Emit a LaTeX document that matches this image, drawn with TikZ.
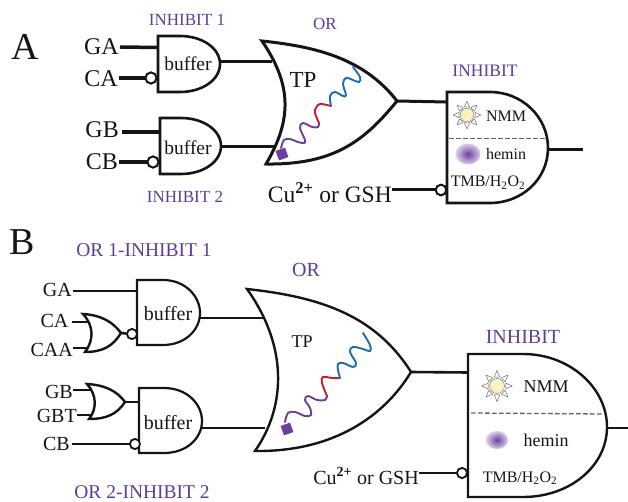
\documentclass[tikz,border=0pt]{standalone}
\usepackage{fontspec}
\setmainfont{Liberation Serif}
\newcommand\sz[1]{\fontsize{#1}{#1}\selectfont}
\definecolor{labpurple}{HTML}{5F3C98}
\definecolor{wavepurple}{HTML}{6B3FA0}
\definecolor{wavered}{HTML}{C4202E}
\definecolor{waveblue}{HTML}{1F6DAE}
\definecolor{ink}{HTML}{151515}
\definecolor{sunfill}{HTML}{FCEFC0}
\tikzset{
  lab/.style={inner sep=0pt,text=ink,font=\sz{#1}},
  plab/.style={inner sep=0pt,text=labpurple,font=\sz{#1}},
  gateline/.style={draw=ink,line width=#1,line join=miter,fill=white},
  wire/.style={draw=ink,line width=#1},
  bub/.style={circle,draw=ink,fill=white,line width=#1,inner sep=0pt},
  wave/.style={line width=1.9pt,line cap=round},
  raylook/.style={draw=gray!85!black,fill=white,line width=.5pt,line join=round},
  dashline/.style={draw=gray!75!black,dash pattern=on 4.5pt off 2.5pt,line width=1.3pt}
}
\newcommand\sunicon[3]{%
  \foreach \a in {0,45,...,315}{
    \begin{scope}[shift={(#1,#2)},rotate=\a,scale=#3]
      \path[raylook] (8,-2.6) -- (14,0) -- (8,2.6) -- cycle;
    \end{scope}}
  \path[draw=gray!85!black,fill=sunfill,line width=.4pt] (#1,#2) circle[radius=6.8*#3];
}
\begin{document}
\begin{tikzpicture}[x=1pt,y=-1pt]
\useasboundingbox (0,0) rectangle (628,502);
% ---------- Panel A
\node[lab=38] (panA) at (25,47) {A};
\node[plab=17] (tI1) at (187,20) {INHIBIT 1};
\node[plab=17] (tI2) at (185,197) {INHIBIT 2};
\node[plab=17] (tOR) at (325,24) {OR};
\node[plab=17.5] (tIN) at (485,71) {INHIBIT};
\node[lab=24,anchor=east] (GA) at (119,47) {GA};
\node[lab=24,anchor=east] (CA) at (118,79) {CA};
\node[lab=24,anchor=east] (GB) at (119,130) {GB};
\node[lab=24,anchor=east] (CB) at (118,162) {CB};
\coordinate (g1a) at (158,47.5);
\coordinate (g1o) at (220,62);
\coordinate (g2a) at (160,132);
\coordinate (g2o) at (221,146.5);
\coordinate (orAi1) at (272,62);
\coordinate (orAi2) at (276,146.5);
\coordinate (orAo) at (397,101);
\coordinate (inAi) at (447,102);
\coordinate (inAo) at (548,149.5);
\coordinate (inAe) at (583,149.5);
\node[bub=1.9pt,minimum size=11pt] (b1) at (151,78) {};
\node[bub=1.9pt,minimum size=11pt] (b2) at (153,162) {};
\node[bub=1.9pt,minimum size=10.5pt] (b3) at (441,190) {};
\draw[wire=3.5pt] ([xshift=1pt]GA.east) -- (g1a);
\draw[wire=3.5pt] ([xshift=1pt]CA.east|-b1) -- (b1);
\draw[wire=3.5pt] ([xshift=3pt]GB.east|-g2a) -- (g2a);
\draw[wire=3.5pt] ([xshift=1pt]CB.east) -- (b2);
\draw[wire=3pt] (g1o) -- (orAi1);
\draw[wire=3pt] (g2o) -- (orAi2);
\draw[wire=3pt] (orAo) -- (inAi);
\draw[wire=3pt] (inAo) -- (inAe);
% gates
\path[gateline=2.6pt] (158,36) -- (180,36) .. controls (202,36) and (220,48) .. (220,64) .. controls (220,80) and (202,92) .. (180,92) -- (158,92) -- cycle;
\path[gateline=2.6pt] (160,118) -- (181,118) .. controls (203,118) and (221,130) .. (221,146) .. controls (221,162) and (203,174) .. (181,174) -- (160,174) -- cycle;
\node[bub=1.9pt,minimum size=11pt] at (b1) {};
\node[bub=1.9pt,minimum size=11pt] at (b2) {};
\node[lab=19.5] (buf1) at (188,64) {buffer};
\node[lab=19.5] (buf2) at (188,148) {buffer};
\path[gateline=3pt] (262,41) .. controls (320,47) and (365,60) .. (397,101) .. controls (365,140) and (335,165) .. (266,164) .. controls (292,120) and (292,85) .. (262,41) -- cycle;
\node[lab=23] (tpA) at (303,80) {TP};
\draw[wave,wavepurple] plot[smooth,tension=.6] coordinates {(281,148) (284,140) (290,139) (298,142) (304,143) (305,140) (300,128) (303,123) (312,127) (318,127) (319,123)};
\draw[wave,wavered] plot[smooth,tension=.6] coordinates {(319,123) (315,113) (316,108) (320,104) (331,106)};
\draw[wave,waveblue] plot[smooth,tension=.6] coordinates {(331,106) (330,96) (335,92) (343,96) (346,95) (343,84) (346,78) (353,80) (359,82) (360,77) (353,67)};
\path[fill=wavepurple,rotate around={20:(282,154)}] (277,149) rectangle (287,159);
\path[gateline=2.6pt] (447,92) -- (490,92) .. controls (522,92) and (548,117) .. (548,148) .. controls (548,179) and (522,203) .. (490,203) -- (447,203) -- cycle;
\draw[dashline] (449,138.5) -- (546,138.5);
\node[bub=1.9pt,minimum size=10.5pt] at (b3) {};
\sunicon{467}{115}{1}
\shade[inner color=wavepurple,outer color=wavepurple!25!white] (468,154) ellipse[x radius=12.5,y radius=10.5];
\node[lab=16] (nmmA) at (506,116) {NMM};
\node[lab=16] (hemA) at (506,154) {hemin};
\node[lab=16] (tmbA) at (488,183) {TMB/H\textsubscript{2}O\textsubscript{2}};
\node[lab=23.5,anchor=east] (cuA) at (392,193) {Cu\textsuperscript{\bfseries 2+} or GSH};
\draw[wire=3pt] (cuA.east|-b3) -- (b3);
% ---------- Panel B
\node[lab=38] (panB) at (22,242) {B};
\node[plab=19.5] (tO1) at (144,250) {OR 1-INHIBIT 1};
\node[plab=19.5] (tO2) at (142,492) {OR 2-INHIBIT 2};
\node[plab=20] (tORb) at (306,270) {OR};
\node[plab=20] (tINb) at (523,337) {INHIBIT};
\node[lab=20,anchor=east] (GAb) at (72,290) {GA};
\node[lab=20,anchor=east] (CAb) at (68.5,321) {CA};
\node[lab=20,anchor=east] (CAAb) at (73,350) {CAA};
\node[lab=20,anchor=east] (GBb) at (73,392) {GB};
\node[lab=20,anchor=east] (GBTb) at (77,416) {GBT};
\node[lab=20,anchor=east] (CBb) at (70,444) {CB};
\coordinate (B1a) at (137,291);
\coordinate (B1o) at (200,318);
\coordinate (B2o) at (202,428);
\coordinate (Bori1) at (263,318);
\coordinate (Bori2) at (265,428);
\coordinate (s1a) at (88,322);
\coordinate (s1b) at (88,348);
\coordinate (s1o) at (121,333);
\coordinate (s2a) at (92,390);
\coordinate (s2b) at (93,415);
\coordinate (s2o) at (125,402);
\coordinate (B2a) at (139,402);
\coordinate (Bo) at (411,372);
\coordinate (Bin) at (468,372.5);
\coordinate (Bgo) at (606,428);
\coordinate (Bge) at (628,428);
\node[bub=1.7pt,minimum size=10pt] (b4) at (132,334) {};
\node[bub=1.7pt,minimum size=10pt] (b5) at (135,444) {};
\node[bub=1.7pt,minimum size=10pt] (b6) at (462,473) {};
\draw[wire=2.6pt] ([xshift=1pt]GAb.east|-B1a) -- (B1a);
\draw[wire=2.6pt] ([xshift=3pt]CAb.east|-s1a) -- (s1a);
\draw[wire=2.6pt] (CAAb.east|-s1b) -- (s1b);
\draw[wire=2.6pt] (s1o) -- (b4);
\draw[wire=2.6pt] (GBb.east|-s2a) -- (s2a);
\draw[wire=2.6pt] (GBTb.east|-s2b) -- (s2b);
\draw[wire=2.6pt] (s2o) -- (B2a);
\draw[wire=2.6pt] ([xshift=2pt]CBb.east) -- (b5);
\draw[wire=2.6pt] (B1o) -- (Bori1);
\draw[wire=2.6pt] (B2o) -- (Bori2);
\draw[wire=2.6pt] (Bo) -- (Bin);
\draw[wire=2.6pt] (Bgo) -- (Bge);
\path[gateline=2.2pt] (137,280) -- (163,280) .. controls (185,280) and (200,296) .. (200,313) .. controls (200,330) and (185,345) .. (163,345) -- (137,345) -- cycle;
\path[gateline=2.2pt] (139,388) -- (164,388) .. controls (187,388) and (202,404) .. (202,421) .. controls (202,438) and (187,453) .. (164,453) -- (139,453) -- cycle;
\path[gateline=2.4pt] (83,314) .. controls (101,315) and (113,322) .. (121,333) .. controls (113,346) and (103,352) .. (85,352) .. controls (94,340) and (94,326) .. (83,314) -- cycle;
\path[gateline=2.4pt] (87,384) .. controls (105,385) and (117,391) .. (125,402) .. controls (117,414) and (107,419) .. (89,419) .. controls (97,409) and (97,395) .. (87,384) -- cycle;
\node[bub=1.7pt,minimum size=10pt] at (b4) {};
\node[bub=1.7pt,minimum size=10pt] at (b5) {};
\node[lab=20] (buf3) at (168,314) {buffer};
\node[lab=20] (buf4) at (168,423) {buffer};
\path[gateline=2.4pt] (247,289) .. controls (320,297) and (375,315) .. (411,372) .. controls (385,415) and (335,452) .. (255,451) .. controls (287,405) and (287,345) .. (247,289) -- cycle;
\node[lab=18] (tpB) at (302,342) {TP};
\draw[wave,wavepurple] plot[smooth,tension=.6] coordinates {(285,422) (288,413) (295,412) (305,416) (311,415) (310,408) (305,400) (308,396) (317,400) (325,400) (327,396)};
\draw[wave,wavered] plot[smooth,tension=.6] coordinates {(327,396) (322,383) (323,377) (332,378) (340,378)};
\draw[wave,waveblue] plot[smooth,tension=.6] coordinates {(340,378) (338,370) (338,364) (343,363) (353,367) (356,363) (350,352) (353,347) (363,349) (370,351) (370,345) (363,333)};
\path[fill=wavepurple,rotate around={20:(287,429)}] (282,424) rectangle (292,434);
\path[gateline=2.4pt] (468,354) -- (523,354) .. controls (570,354) and (607,388) .. (607,427) .. controls (607,466) and (570,497) .. (523,497) -- (468,497) -- cycle;
\draw[dashline] (471,413) -- (605,414);
\node[bub=1.7pt,minimum size=10pt] at (b6) {};
\sunicon{497}{386}{1.1}
\shade[inner color=wavepurple,outer color=wavepurple!25!white] (497,440) ellipse[x radius=11,y radius=9];
\node[lab=18] (nmmB) at (546,387) {NMM};
\node[lab=18] (hemB) at (546,440) {hemin};
\node[lab=16] (tmbB) at (520,478) {TMB/H\textsubscript{2}O\textsubscript{2}};
\node[lab=20,anchor=east] (cuB) at (419,476) {Cu\textsuperscript{\bfseries 2+} or GSH};
\draw[wire=2.6pt] (cuB.east|-b6) -- (b6);
\end{tikzpicture}
\end{document}
